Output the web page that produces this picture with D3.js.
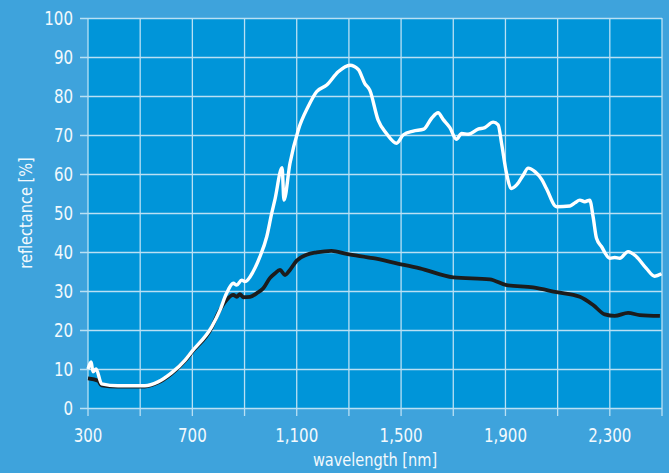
<!DOCTYPE html>
<html><head><meta charset="utf-8">
<script src="https://cdn.jsdelivr.net/npm/d3@7"></script>
<style>
html,body{margin:0;padding:0;background:#3ea3dc;}
svg{display:block;}
text{font-family:"Liberation Sans Narrow","Arial Narrow","DejaVu Sans Condensed",sans-serif;fill:#f2f9fd;}
</style></head>
<body>
<script>
const whiteWl = [300,312,319,331,352,415,518,568,620,672,697,774,806,831,857,870,889,902,933,959,985,1004,1016,1044,1051,1074,1106,1144,1176,1215,1259,1304,1336,1361,1380,1412,1444,1483,1508,1547,1587,1617,1642,1661,1687,1712,1732,1757,1795,1821,1853,1872,1885,1904,1923,1943,1968,1987,2013,2040,2057,2096,2147,2166,2185,2204,2223,2236,2249,2268,2300,2319,2338,2370,2402,2440,2472,2498];
const whiteVal = [10.0,11.8,9.3,10.0,6.2,5.7,5.7,6.7,9.0,12.3,14.4,20.8,25.1,29.4,32.0,31.5,32.8,32.4,35.0,38.8,43.9,49.9,53.3,61.6,53.3,62.7,71.3,77.3,81.1,82.8,86.2,87.9,86.8,83.2,81.5,73.8,70.4,67.9,70.0,71.0,71.5,74.3,75.7,74.0,71.9,68.9,70.4,70.2,71.5,71.9,73.3,72.6,67.9,60.2,56.3,57.2,59.7,61.5,60.6,58.5,56.3,51.6,51.8,52.6,53.3,52.9,53.3,49.0,43.5,41.4,38.4,38.6,38.4,40.1,38.8,35.8,33.8,34.4];
const blackWl = [300,339,352,415,518,568,620,672,697,774,799,831,857,870,882,895,921,946,972,997,1016,1036,1055,1074,1100,1138,1176,1233,1291,1393,1483,1572,1700,1840,1904,2006,2096,2185,2236,2281,2319,2370,2415,2492];
const blackVal = [7.6,7.0,5.8,5.5,5.5,6.5,8.8,12.1,14.2,20.6,24.3,27.7,29.0,28.5,29.2,28.4,28.5,29.4,30.7,33.3,34.5,35.4,34.1,35.4,37.8,39.3,39.9,40.3,39.5,38.4,37.1,35.8,33.5,33.0,31.5,30.9,29.7,28.5,26.4,24.0,23.6,24.4,23.8,23.6];
const xGrid = [300,500,700,900,1100,1300,1500,1700,1900,2100,2300,2500];
const xLabels = [300,700,1100,1500,1900,2300];
const yTicks = [0,10,20,30,40,50,60,70,80,90,100];

const W=669,H=473;
const L=88,R=662,T=18,B=408;
const svg=d3.select("body").append("svg").attr("width",W).attr("height",H);
const x=d3.scaleLinear().domain([300,2500]).range([L,R]);
const y=d3.scaleLinear().domain([0,100]).range([B,T]);

svg.append("rect").attr("x",L).attr("y",T).attr("width",R-L).attr("height",B-T).attr("fill","#0095d9");

const gc="#b9e0f4";
svg.append("g").selectAll("line").data(yTicks).join("line")
  .attr("x1",L-8).attr("x2",R).attr("y1",d=>y(d)+0.5).attr("y2",d=>y(d)+0.5)
  .attr("stroke",gc).attr("stroke-width",1.3);
svg.append("g").selectAll("line").data(xGrid).join("line")
  .attr("x1",d=>x(d)).attr("x2",d=>x(d)).attr("y1",T).attr("y2",B+8)
  .attr("stroke",gc).attr("stroke-width",1.3);

const fmt=d3.format(",");
svg.append("g").selectAll("text").data(yTicks).join("text")
  .attr("transform",d=>`translate(73,${y(d)}) scale(0.88,1)`).attr("dy","0.36em").attr("text-anchor","end")
  .attr("font-size",19).text(d=>d);
svg.append("g").selectAll("text").data(xLabels).join("text")
  .attr("transform",d=>`translate(${x(d)},442) scale(0.88,1)`).attr("text-anchor","middle")
  .attr("font-size",19).text(d=>fmt(d));

svg.append("text").attr("transform",`translate(${(L+R)/2},466) scale(0.9,1)`).attr("text-anchor","middle")
  .attr("font-size",18).text("wavelength [nm]");
svg.append("text").attr("transform",`translate(32,${(T+B)/2}) rotate(-90) scale(0.9,1)`).attr("text-anchor","middle")
  .attr("font-size",18).text("reflectance [%]");

const line=d3.line().x(d=>x(d[0])).y(d=>y(d[1])).curve(d3.curveMonotoneX);
svg.append("path").datum(d3.zip(blackWl,blackVal)).attr("d",line)
  .attr("fill","none").attr("stroke","#1c1c1c").attr("stroke-width",3.8).attr("stroke-linejoin","round");
svg.append("path").datum(d3.zip(whiteWl,whiteVal)).attr("d",line)
  .attr("fill","none").attr("stroke","#ffffff").attr("stroke-width",3.4).attr("stroke-linejoin","round");
</script>
</body></html>
